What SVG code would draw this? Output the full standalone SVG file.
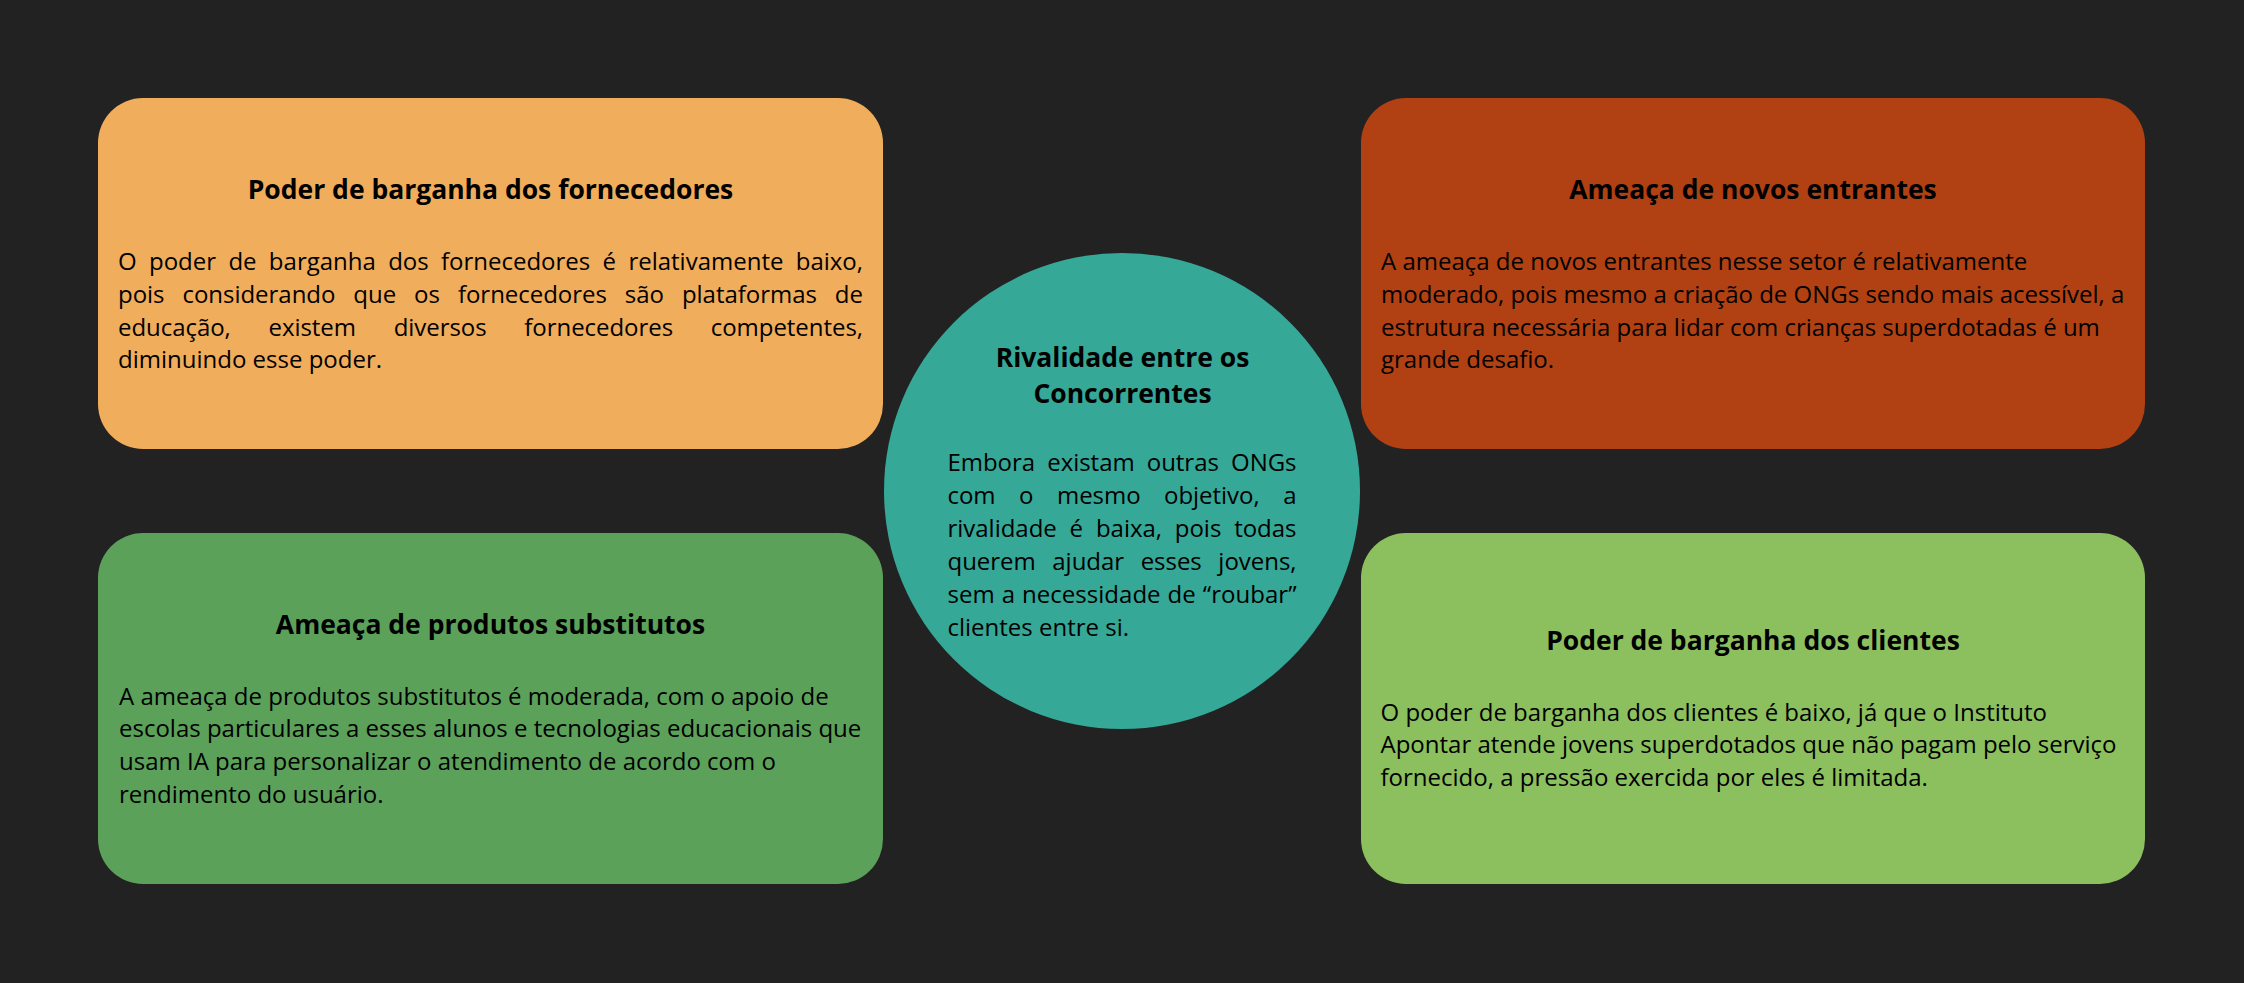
<svg xmlns="http://www.w3.org/2000/svg" width="2244" height="983" viewBox="0 0 2244 983">
<style>
.title{font-family:"Open Sans","Noto Sans",sans-serif;font-weight:700;font-size:26.5px;fill:#000;text-anchor:middle}
.body{font-family:"Open Sans","Noto Sans",sans-serif;font-weight:400;font-size:24px;fill:#000}
</style>
<rect x="0" y="0" width="2244" height="983" fill="#222222"/>
<g id="connectors"/>
<g id="fornecedores">
<rect x="98" y="98" width="785" height="351" rx="45" ry="45" fill="#F0AD5B"/>
<text class="title" x="490.5" y="199">Poder de barganha dos fornecedores</text>
<text class="body" x="118" y="270" word-spacing="6.1" textLength="745" lengthAdjust="spacing">O poder de barganha dos fornecedores é relativamente baixo,</text>
<text class="body" x="118" y="302.8" word-spacing="11.77" textLength="745" lengthAdjust="spacing">pois considerando que os fornecedores são plataformas de</text>
<text class="body" x="118" y="335.6" word-spacing="31.5" textLength="745" lengthAdjust="spacing">educação, existem diversos fornecedores competentes,</text>
<text class="body" x="118" y="368.4">diminuindo esse poder.</text>
</g>
<g id="novos-entrantes">
<rect x="1361" y="98" width="784" height="351" rx="45" ry="45" fill="#B14113"/>
<text class="title" x="1753" y="198.5">Ameaça de novos entrantes</text>
<text class="body" x="1381" y="270">A ameaça de novos entrantes nesse setor é relativamente</text>
<text class="body" x="1381" y="302.8">moderado, pois mesmo a criação de ONGs sendo mais acessível, a</text>
<text class="body" x="1381" y="335.6">estrutura necessária para lidar com crianças superdotadas é um</text>
<text class="body" x="1381" y="368.4">grande desafio.</text>
</g>
<g id="substitutos">
<rect x="98" y="533" width="785" height="351" rx="45" ry="45" fill="#5CA15A"/>
<text class="title" x="490.5" y="633.5">Ameaça de produtos substitutos</text>
<text class="body" x="119" y="704.5">A ameaça de produtos substitutos é moderada, com o apoio de</text>
<text class="body" x="119" y="737.3">escolas particulares a esses alunos e tecnologias educacionais que</text>
<text class="body" x="119" y="770.1">usam IA para personalizar o atendimento de acordo com o</text>
<text class="body" x="119" y="802.9">rendimento do usuário.</text>
</g>
<g id="clientes">
<rect x="1361" y="533" width="784" height="351" rx="45" ry="45" fill="#8CBF5E"/>
<text class="title" x="1753" y="649.5">Poder de barganha dos clientes</text>
<text class="body" x="1380.5" y="720.5">O poder de barganha dos clientes é baixo, já que o Instituto</text>
<text class="body" x="1380.5" y="753.3">Apontar atende jovens superdotados que não pagam pelo serviço</text>
<text class="body" x="1380.5" y="786.1">fornecido, a pressão exercida por eles é limitada.</text>
</g>
<g id="rivalidade">
<circle cx="1122" cy="491" r="238" fill="#35A897"/>
<text class="title" x="1122.5" y="367">Rivalidade entre os</text>
<text class="title" x="1122.5" y="403">Concorrentes</text>
<text class="body" x="947.5" y="470.7" word-spacing="6" textLength="349" lengthAdjust="spacing">Embora existam outras ONGs</text>
<text class="body" x="947.5" y="503.8" word-spacing="17.3" textLength="349" lengthAdjust="spacing">com o mesmo objetivo, a</text>
<text class="body" x="947.5" y="536.9" word-spacing="6.6" textLength="349" lengthAdjust="spacing">rivalidade é baixa, pois todas</text>
<text class="body" x="947.5" y="570" word-spacing="10.4" textLength="349" lengthAdjust="spacing">querem ajudar esses jovens,</text>
<text class="body" x="947.5" y="603" word-spacing="0.7" textLength="349" lengthAdjust="spacing">sem a necessidade de “roubar”</text>
<text class="body" x="947.5" y="636">clientes entre si.</text>
</g>
</svg>
